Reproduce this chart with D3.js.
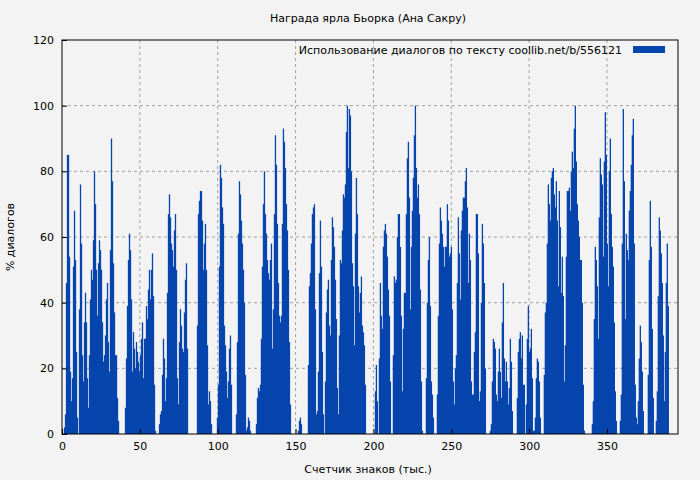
<!DOCTYPE html>
<html>
<head>
<meta charset="utf-8">
<script src="https://cdn.jsdelivr.net/npm/d3@7"></script>
<style>
  body { margin: 0; background: #f3f3f3; }
  text { font-family: "DejaVu Sans", sans-serif; }
</style>
</head>
<body>
<svg id="chart" width="700" height="480"></svg>
<script>
// x in thousands of characters; each reading covers binWidth
const binStart = 1.2;
const binWidth = 0.642;
const xTicks = [0, 50, 100, 150, 200, 250, 300, 350];
const yTicks = [0, 20, 40, 60, 80, 100, 120];

const part1 = [2,6,46,85,85,54,19,10,17,51,68,53,25,5,0,38,76,58,24,16,34,43,34,17,8,24,41,50,47,59,
  80,70,50,36,52,59,56,50,34,22,24,30,41,46,28,19,56,90,77,52,37,24,24,11,4,0,0,0,0,0,0,
  8,23,39,53,61,56,41,19,31,26,20,28,25,22,19,24,29,34,17,29,29,39,35,44,50,41,50,55,42,15,1,0,0,0,
  3,6,7,18,29,23,10,17];
const part2 = [43,67,73,66,58,56,51,62,67,50,17,9,28,38,33,26,25,37,47,52,26,0,0,0,0,0,0,0,0,0,
  33,67,71,74,74,65,50,58,64,50,27,9,13,10,3,0,0,0,0,0,5,15,51,82,78,69,64,33,27,19,11,16,26,30,15,
  0,0,0,0,6,28,61,77,73,65,58,50,40,18,1,2,5,4,1,0,0,0,0,0,3,11,14,13,15,29,51,70,80,67,61,53,49,47,53,58];
const part3 = [26,38,67,91,82,64,46,36,34,36,64,93,89,81,70,62,50,28,9,0,0,0,0,0,0,0,1,4,5,3,0,0,0,0,0,0,
  21,45,49,58,67,69,70,38,6,7,19,49,65,51,25,6,0,16,37,44,47,33,30,53,66,63,57,47,35,14,6,30,53,52,62,
  73,72,76,92,100,81,99,97,80,52,45,27,61,78,67,45,37,43,48,33,31,27,15,0,0,0,0,0,0,0,0,0,13];
const part4 = [21,10,0,23,46,36,32,57,62,64,61,54,44,36,16,0,0,24,48,46,47,60,67,67,57,36,13,32,43,43,
  67,84,89,72,38,57,68,78,91,100,81,72,76,67,44,16,1,0,0,0,17,40,53,60,39,16,12,5,0,0,0,
  12,36,58,69,65,61,57,51,57,57,70,65,54,55,57,38,16,9,20,24,46,66,55,41,62,68,72,72,77,81,69,46,61,53,
  16,12,12,25,31,67,67,55];
const part5 = [10,13,40,64,58,46,20,0,0,0,0,1,3,16,29,28,26,12,10,19,26,19,11,34,46,23,16,22,16,9,14,29,22,7,
  0,0,0,0,11,25,29,31,23,30,15,15,0,9,29,39,25,26,32,17,1,1,5,17,23,22,16,5,0,0,0,
  18,37,40,58,76,70,65,78,80,81,73,69,77,65,45,74,63,43,54,42,16,27,54,74,74,75,68,80,86,81,93,100,83,
  70,65,60,53,53];
const part6 = [40,15,1,0,0,0,0,0,0,0,3,10,35,57,53,45,29,66,84,79,76,54,83,98,85,58,45,80,90,67,57,51,34,13,4,
  0,0,0,4,12,58,99,77,35,61,56,53,68,74,82,91,96,58,15,5,3,10,23,33,28,19,7,0,0,0,0,
  18,53,71,57,32,11,0,0,4,13,42,66,62,55,46,30,10,25,46,58,39];

const values = [].concat(part1, part2, part3, part4, part5, part6);

const margin = {top: 40, right: 22, bottom: 46, left: 62};
const width = 700, height = 480;
const svg = d3.select("#chart");
const innerW = width - margin.left - margin.right;
const innerH = height - margin.top - margin.bottom;

const x = d3.scaleLinear().domain([0, 395.6]).range([0, innerW]);
const y = d3.scaleLinear().domain([0, 120]).range([innerH, 0]);

const g = svg.append("g").attr("transform", `translate(${margin.left},${margin.top})`);

// grid
g.selectAll(".gx").data(xTicks.slice(1)).enter().append("line")
  .attr("x1", d => x(d)).attr("x2", d => x(d)).attr("y1", 0).attr("y2", innerH)
  .attr("stroke", "#a0a0a0").attr("stroke-dasharray", "3,3");
g.selectAll(".gy").data(yTicks.slice(1, -1)).enter().append("line")
  .attr("x1", 0).attr("x2", innerW).attr("y1", d => y(d)).attr("y2", d => y(d))
  .attr("stroke", "#a0a0a0").attr("stroke-dasharray", "3,3");

// bars
g.selectAll(".bar").data(values).enter().append("rect")
  .attr("x", (d, i) => x(binStart + i * binWidth))
  .attr("width", x(binWidth) - x(0) + 0.3)
  .attr("y", d => y(d))
  .attr("height", d => innerH - y(d))
  .attr("fill", "#0645ad");

// axes
const xAxis = d3.axisBottom(x).tickValues(xTicks).tickSize(-5).tickPadding(8);
const yAxis = d3.axisLeft(y).tickValues(yTicks).tickSize(-5).tickPadding(8);
g.append("g").attr("transform", `translate(0,${innerH})`).call(xAxis);
g.append("g").call(yAxis);
g.selectAll(".tick text").attr("font-size", 11).attr("fill", "#000")
  .style("font-family", "DejaVu Sans, sans-serif");
g.selectAll(".domain").remove();
g.append("rect").attr("width", innerW).attr("height", innerH)
  .attr("fill", "none").attr("stroke", "#000");

// titles
svg.append("text").attr("x", 368).attr("y", 22).attr("text-anchor", "middle")
  .attr("font-size", 11).text("Награда ярла Бьорка (Ана Сакру)");
svg.append("text").attr("x", 368).attr("y", 473).attr("text-anchor", "middle")
  .attr("font-size", 11).text("Счетчик знаков (тыс.)");
svg.append("text").attr("transform", "translate(14,237) rotate(-90)").attr("text-anchor", "middle")
  .attr("font-size", 11).text("% диалогов");

// legend
svg.append("text").attr("x", 622).attr("y", 54).attr("text-anchor", "end")
  .attr("font-size", 11).text("Использование диалогов по тексту  coollib.net/b/556121");
svg.append("rect").attr("x", 633).attr("y", 46).attr("width", 32).attr("height", 7).attr("fill", "#0645ad");
</script>
</body>
</html>
